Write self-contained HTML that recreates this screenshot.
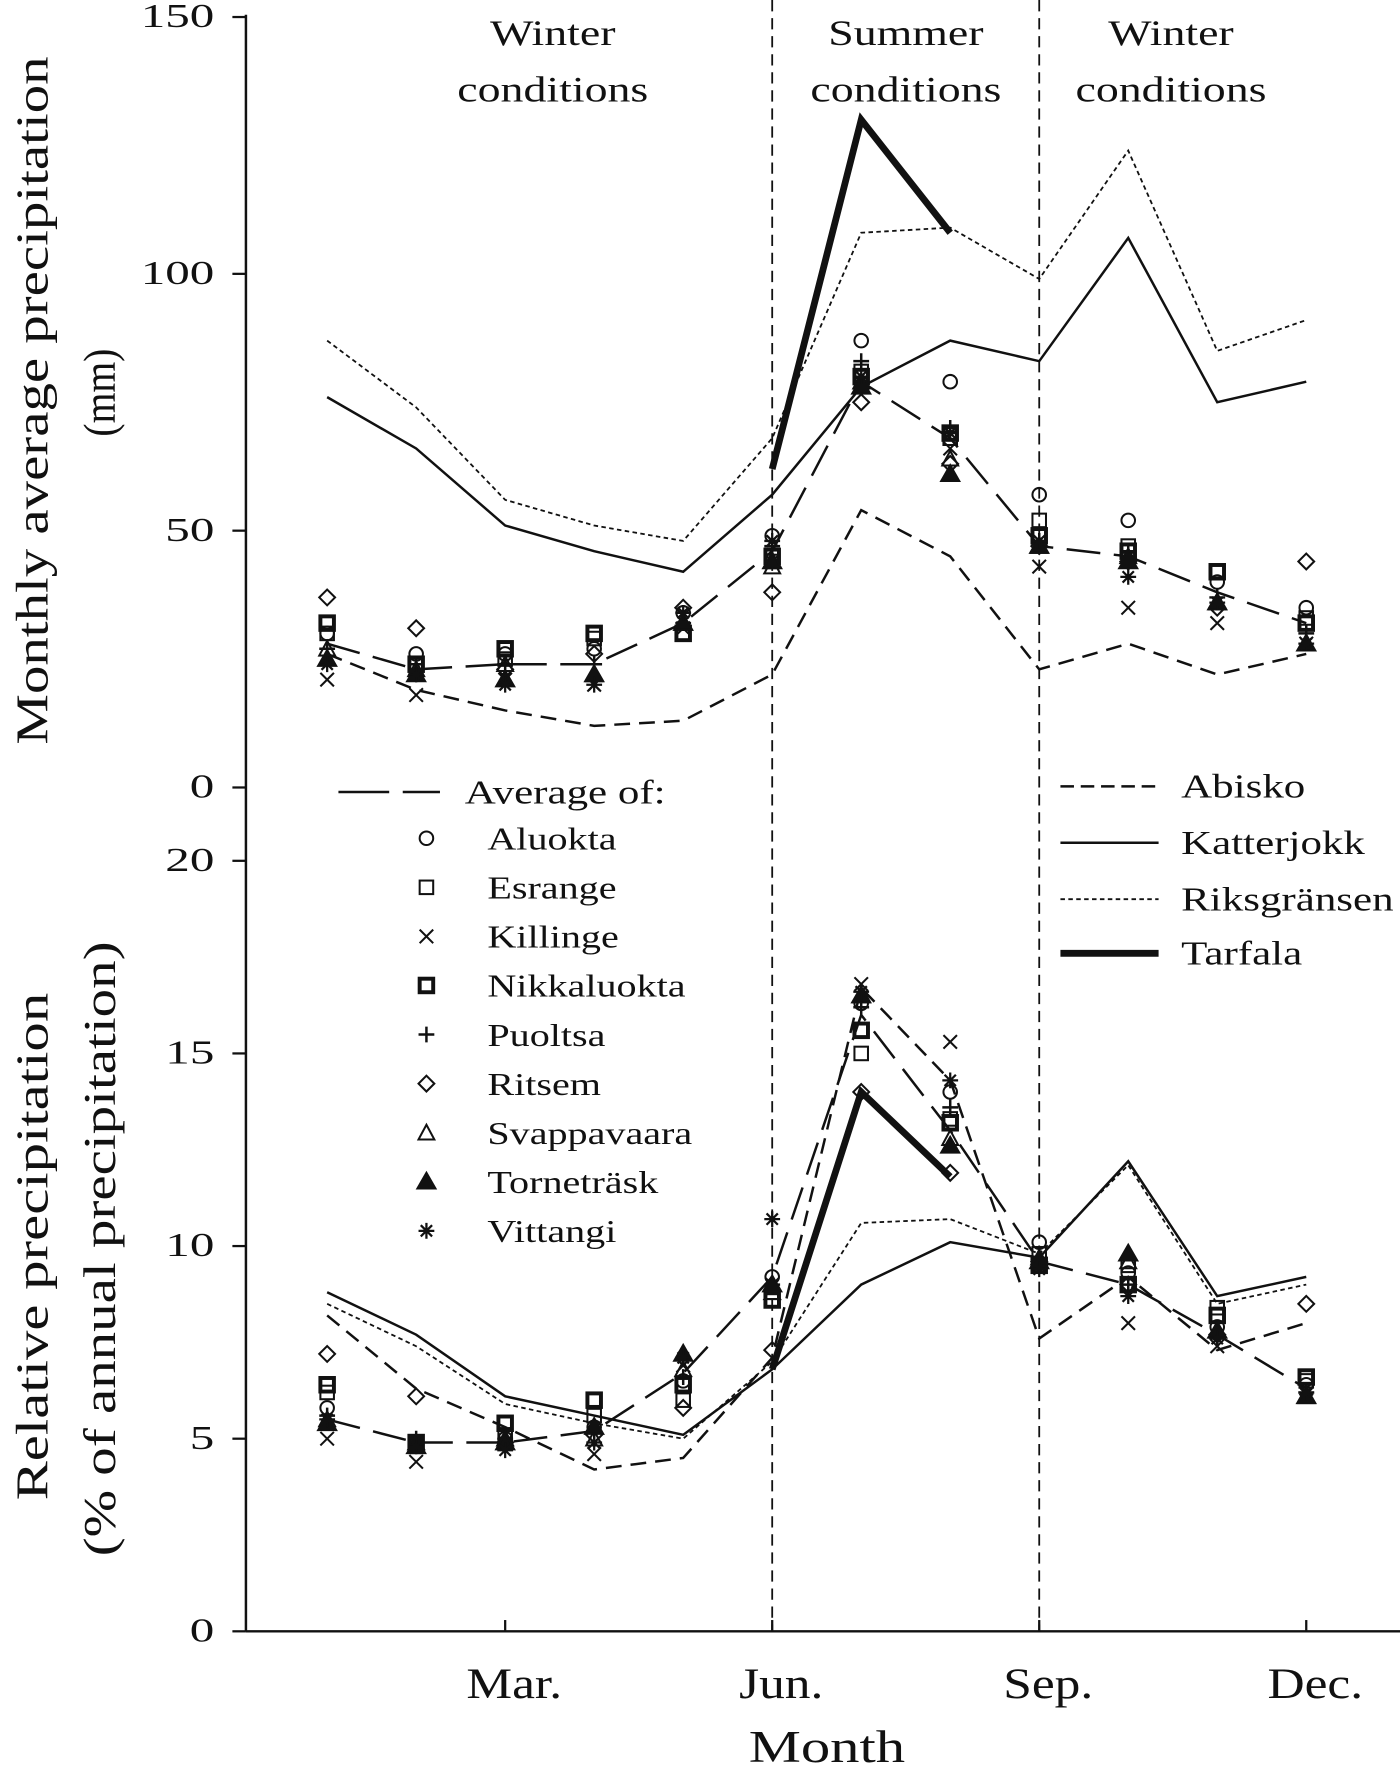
<!DOCTYPE html>
<html><head><meta charset="utf-8"><style>
html,body{margin:0;padding:0;background:#fff}
svg{display:block}
text{font-family:"Liberation Serif",serif;fill:#111}
</style></head><body>
<svg id="chart" width="1400" height="1769" viewBox="0 0 1241 1568" xmlns="http://www.w3.org/2000/svg"></svg>
<script>
// ---- data ----
const months = ["Jan","Feb","Mar","Apr","May","Jun","Jul","Aug","Sep","Oct","Nov","Dec"];
const xTickLabels = ["Mar.","Jun.","Sep.","Dec."];
const xTickIdx = [2,5,8,11];
const topTicks = [0,50,100,150];
const botTicks = [0,5,10,15,20];
// top panel (mm)
const abiskoMM = [26,19,15,12,13,22,54,45,23,28,22,26];
const katterMM = [76,66,51,46,42,57,78,87,83,107,75,79];
const riksMM = [87,74,56,51,48,68,108,109,99,124,85,91];
const tarfalaMM = [null,null,null,null,null,62,130,108,null,null,null,null];
const averageMM = [28,23,24,24,32,46,79,68,47,45,38,32];
const aluoktaMM = [30,26,26,27,34,49,87,79,57,52,40,35];
const esrangeMM = [30,24,25,29,30,44,81,68,52,47,42,33];
const killingeMM = [21,18,21,20,31,44,80,66,43,35,32,28];
const nikkaMM = [32,24,27,30,30,45,80,69,49,46,42,32];
const puoltsaMM = [27,24,24,24,32,47,83,70,48,46,37,30];
const ritsemMM = [37,31,23,26,35,38,75,63,47,44,35,44];
const svappaMM = [27,23,24,22,32,43,79,64,47,45,36,28];
const torneMM = [25,22,21,22,32,44,78,61,47,44,36,28];
const vittangiMM = [24,22,20,20,34,48,80,69,48,41,36,28];
// bottom panel (%)
const abiskoPct = [8.2,6.3,5.3,4.2,4.5,7.1,16.7,14.3,7.6,9.2,7.3,8.0];
const katterPct = [8.8,7.7,6.1,5.6,5.1,6.8,9.0,10.1,9.7,12.2,8.7,9.2];
const riksPct = [8.5,7.4,5.9,5.4,5.0,7.0,10.6,10.7,9.8,12.1,8.5,9.0];
const tarfalaPct = [null,null,null,null,null,6.8,14.0,11.8,null,null,null,null];
const averagePct = [5.5,4.9,4.9,5.2,6.7,9.2,16.0,13.0,9.6,9.0,7.7,6.3];
const aluoktaPct = [5.8,4.9,5.0,5.3,6.5,9.2,16.3,14.0,10.1,9.3,7.9,6.4];
const esrangePct = [6.2,4.8,5.1,5.6,6.0,8.6,15.0,13.3,9.8,9.5,8.4,6.5];
const killingePct = [5.0,4.4,4.9,4.6,6.9,9.0,16.8,15.3,9.5,8.0,7.4,6.3];
const nikkaPct = [6.4,4.9,5.4,6.0,6.4,8.6,15.6,13.2,9.5,9.0,8.2,6.6];
const puoltsaPct = [5.6,5.0,5.0,5.2,6.6,9.0,16.2,13.6,9.6,9.0,7.6,6.2];
const ritsemPct = [7.2,6.1,4.9,5.1,5.8,7.3,14.0,11.9,9.6,9.0,7.7,8.5];
const svappaPct = [5.5,4.9,5.0,5.0,6.8,8.8,16.5,12.8,9.7,9.6,7.8,6.1];
const tornePct = [5.4,4.8,4.9,5.3,7.2,9.0,16.5,12.6,9.6,9.8,7.8,6.1];
const vittangiPct = [5.5,4.8,4.7,4.9,7.1,10.7,16.6,14.3,9.4,8.7,7.6,6.2];
const stationNames = ["Aluokta","Esrange","Killinge","Nikkaluokta","Puoltsa","Ritsem","Svappavaara","Torneträsk","Vittangi"];
const stationKeys = ["circle","square","x","boldsquare","plus","diamond","triangle","filltri","star"];

const NS="http://www.w3.org/2000/svg";
const svg=document.getElementById('chart');
function mk(tag,attrs,parent){const e=document.createElementNS(NS,tag);for(const k in attrs)e.setAttribute(k,attrs[k]);(parent||svg).appendChild(e);return e;}
function txt(s,x,y,size,anchor,parent,sx){const t=mk('text',{x:0,y:0,'font-size':size,'text-anchor':anchor||'middle',transform:`translate(${x},${y}) scale(${sx||1.27},1)`},parent);t.textContent=s;return t;}

const xM=i=>290+i*78.9;
const yTop=v=>698-v*4.553;
const yBot=v=>1446-v*34.15;

// axes
const axes=mk('g',{});


mk('line',{x1:218,y1:13,x2:218,y2:1446,stroke:'#111','stroke-width':2.2},axes);
mk('line',{x1:218,y1:1446,x2:1241,y2:1446,stroke:'#111','stroke-width':2.2},axes);
topTicks.forEach(t=>{const y=yTop(t);mk('line',{x1:206,y1:y,x2:218,y2:y,stroke:'#111','stroke-width':2},axes);
  const l=txt(String(t),190,y+9,30,'end',axes,1.45);});
botTicks.forEach(t=>{const y=yBot(t);mk('line',{x1:206,y1:y,x2:218,y2:y,stroke:'#111','stroke-width':2},axes);
  const l=txt(String(t),190,y+9,30,'end',axes,1.45);});
xTickIdx.forEach((m,i)=>{const x=xM(m);mk('line',{x1:x,y1:1436,x2:x,y2:1446,stroke:'#111','stroke-width':2},axes);
  const l=txt(xTickLabels[i],x+8,1505,38,'middle',axes,1.2);});
// season dividers
[5,8].forEach(m=>{const l=mk('line',{x1:xM(m),y1:0,x2:xM(m),y2:1446,stroke:'#111','stroke-width':1.6,'stroke-dasharray':'10,6'});
  });

// titles
let t;
t=txt('Month',733,1562,40,'middle',svg,1.3);
function vtitle(s,x,y,len,name){const e=mk('text',{x:0,y:0,transform:`translate(${x},${y}) rotate(-90)`,'font-size':40,'text-anchor':'middle',textLength:len,lengthAdjust:'spacingAndGlyphs'});
  e.textContent=s;}
vtitle('Monthly average precipitation',42,355,610,'y-axis-title-top');
vtitle('(mm)',102,348,78,'y-axis-unit-top');
vtitle('Relative precipitation',42,1105,450,'y-axis-title-bottom');
vtitle('(% of annual precipitation)',102,1107,545,'y-axis-unit-bottom');
[['Winter',490],['Summer',803],['Winter',1038]].forEach(a=>{
  let s=txt(a[0],a[1],40,32);
  s=txt('conditions',a[1],90,32);});

const styles={
 abisko:{stroke:'#111','stroke-width':2.2,'stroke-dasharray':'14,8',fill:'none'},
 katter:{stroke:'#111','stroke-width':2.2,fill:'none'},
 riks:{stroke:'#111','stroke-width':1.6,'stroke-dasharray':'4,3',fill:'none'},
 tarfala:{stroke:'#111','stroke-width':6,fill:'none'},
 average:{stroke:'#111','stroke-width':2.2,'stroke-dasharray':'30,12',fill:'none'}
};
function line(vals,yf,st,name){let d='';let started=false;
  vals.forEach((v,i)=>{if(v==null)return;d+=(started?'L':'M')+xM(i)+','+yf(v);started=true;});
  const p=mk('path',Object.assign({d:d},st));
  }

function marker(type,x,y,parent){const g=parent||svg;const a={stroke:'#111','stroke-width':1.8,fill:'none'};
 switch(type){
  case'circle':return mk('circle',Object.assign({cx:x,cy:y,r:6},a),g);
  case'square':return mk('rect',Object.assign({x:x-6,y:y-6,width:12,height:12},a),g);
  case'boldsquare':return mk('rect',Object.assign({x:x-6,y:y-6,width:12,height:12},a,{'stroke-width':3.5}),g);
  case'x':return mk('path',Object.assign({d:`M${x-6},${y-6}L${x+6},${y+6}M${x-6},${y+6}L${x+6},${y-6}`},a),g);
  case'plus':return mk('path',Object.assign({d:`M${x-7},${y}L${x+7},${y}M${x},${y-7}L${x},${y+7}`},a,{'stroke-width':2.2}),g);
  case'diamond':return mk('path',Object.assign({d:`M${x},${y-7}L${x+7},${y}L${x},${y+7}L${x-7},${y}Z`},a),g);
  case'triangle':return mk('path',Object.assign({d:`M${x},${y-7}L${x+7},${y+6}L${x-7},${y+6}Z`},a),g);
  case'filltri':return mk('path',Object.assign({d:`M${x},${y-8}L${x+8},${y+6}L${x-8},${y+6}Z`},a,{fill:'#111'}),g);
  case'star':return mk('path',Object.assign({d:`M${x-7},${y}L${x+7},${y}M${x},${y-7}L${x},${y+7}M${x-5},${y-5}L${x+5},${y+5}M${x-5},${y+5}L${x+5},${y-5}`},a,{'stroke-width':2}),g);
 }}

// top lines
line(abiskoMM,yTop,styles.abisko,'abisko-line-top');
line(katterMM,yTop,styles.katter,'katterjokk-line-top');
line(riksMM,yTop,styles.riks,'riksgransen-line-top');
line(tarfalaMM,yTop,styles.tarfala,'tarfala-line-top');
line(averageMM,yTop,styles.average,'average-line-top');
// bottom lines
line(abiskoPct,yBot,styles.abisko,'abisko-line-bottom');
line(katterPct,yBot,styles.katter,'katterjokk-line-bottom');
line(riksPct,yBot,styles.riks,'riksgransen-line-bottom');
line(tarfalaPct,yBot,styles.tarfala,'tarfala-line-bottom');
line(averagePct,yBot,styles.average,'average-line-bottom');

const topSets=[aluoktaMM,esrangeMM,killingeMM,nikkaMM,puoltsaMM,ritsemMM,svappaMM,torneMM,vittangiMM];
const botSets=[aluoktaPct,esrangePct,killingePct,nikkaPct,puoltsaPct,ritsemPct,svappaPct,tornePct,vittangiPct];
topSets.forEach((arr,s)=>arr.forEach((v,i)=>{const m=marker(stationKeys[s],xM(i),yTop(v));
  
  }));
botSets.forEach((arr,s)=>arr.forEach((v,i)=>{const m=marker(stationKeys[s],xM(i),yBot(v));
  
  }));

// legends
const lg=mk('g',{});


mk('path',{d:'M300,702L345,702M357,702L390,702',stroke:'#111','stroke-width':2.2},lg);
txt('Average of:',412,712,30,'start',lg);
stationNames.forEach((n,i)=>{const y=745+i*43.5;
  const m=marker(stationKeys[i],378,y-2,lg);
  
  
  const tt=txt(n,432,y+8,28,'start',lg);
  
  });
const rg=mk('g',{});


[['Abisko','abisko',697],['Katterjokk','katter',747],['Riksgränsen','riks',797],['Tarfala','tarfala',845]].forEach(e=>{
  const st=Object.assign({},styles[e[1]]);if(e[1]==='abisko')st['stroke-dasharray']='12,6';
  mk('line',Object.assign({x1:940,y1:e[2],x2:1027,y2:e[2]},st),rg);
  const tt=txt(e[0],1047,e[2]+10,30,'start',rg);
  
  });
</script>
</body></html>
